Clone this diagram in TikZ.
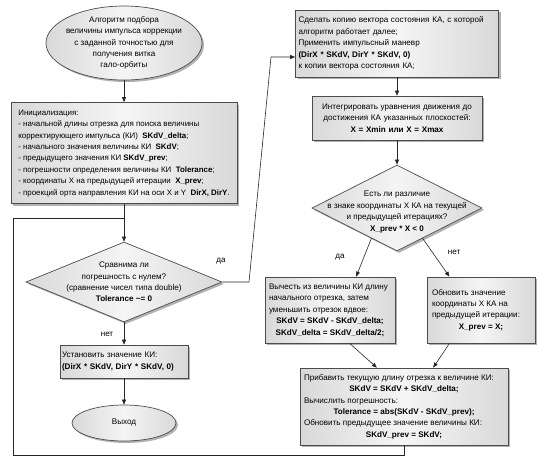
\documentclass[tikz,border=0pt]{standalone}
\usepackage{fontspec}
\setmainfont{Liberation Sans}
\usetikzlibrary{shapes.geometric,arrows.meta,shadows,calc}
\newcommand{\cln}[2]{\hbox to #1{\hfil#2\hfil}}
\begin{document}
\begin{tikzpicture}[x=1pt,y=-1pt,
  every node/.style={font=\fontsize{8.1}{11.4}\selectfont},
  shade/.style={left color=gray!30,right color=gray!30,middle color=gray!8},
  box/.style={draw=black!70,line width=0.7pt,shade,rectangle,inner sep=4pt,
    drop shadow={shadow xshift=2pt,shadow yshift=-2pt,fill=gray!60,opacity=1}},
  dec/.style={draw=black!70,line width=0.7pt,shade,diamond,inner sep=0pt,
    drop shadow={shadow xshift=2pt,shadow yshift=-2pt,fill=gray!60,opacity=1}},
  term/.style={draw=black!70,line width=0.7pt,shade,ellipse,inner sep=0pt,
    drop shadow={shadow xshift=2pt,shadow yshift=-2pt,fill=gray!60,opacity=1}},
  txt/.style={align=center,inner sep=0pt},
  arr/.style={-{Triangle[length=5pt,width=4pt]},line width=0.6pt,draw=black!85},
  ln/.style={line width=0.6pt,draw=black!85},
  lbl/.style={inner sep=0pt}
]
\useasboundingbox (0,0) rectangle (546,467);

% left column
\node[term,minimum width=156pt,minimum height=74pt] (e1) at (124,43) {};
\node[txt] (e1t) at (e1) {Алгоритм подбора\\величины импульса коррекции\\с заданной точностью для\\получения витка\\гало-орбиты};

\node[box,minimum width=226pt,minimum height=101pt,inner sep=0pt,font=\fontsize{7.9}{11.4}\selectfont] (init) at (124,153) {\begin{tabular}{@{}l@{}}Инициализация:\\
- начальной длины отрезка для поиска величины\\
корректирующего импульса (КИ)~ \textbf{SKdV\_delta};\\
- начального значения величины КИ~ \textbf{SKdV};\\
- предыдущего значения КИ \textbf{SKdV\_prev};\\
- погрешности определения величины КИ~ \textbf{Tolerance};\\
- координаты X на предыдущей итерации~ \textbf{X\_prev};\\
- проекций орта направления КИ на оси X и Y~ \textbf{DirX, DirY}.\end{tabular}\hspace{3pt}};

\node[dec,minimum width=196pt,minimum height=80pt] (d1) at (124,282) {};
\node[txt] (d1t) at (d1) {Сравнима ли\\погрешность с нулем?\\(сравнение чисел типа double)\\\textbf{Tolerance \textasciitilde= 0}};

\node[box,minimum width=128pt,minimum height=33pt,text width=124pt,align=left,inner sep=2pt] (set) at (124,361.5) {Установить значение КИ:\\\textbf{(DirX * SKdV, DirY * SKdV, 0)}};

\node[term,minimum width=104pt,minimum height=36pt] (ex) at (124,423) {};
\node[txt] (ext) at (ex) {Выход};

% right column
\node[box,minimum width=203pt,minimum height=67pt,text width=197pt,align=left,inner sep=3pt] (b1) at (397,43.5) {Сделать копию вектора состояния КА, с которой\\алгоритм работает далее;\\Применить импульсный маневр\\\textbf{(DirX * SKdV, DirY * SKdV, 0)}\\к копии вектора состояния КА;};

\node[box,minimum width=170pt,minimum height=44pt,text width=164pt,align=center,inner sep=3pt] (b2) at (397,118) {Интегрировать уравнения движения до\\достижения КА указанных плоскостей:\\\textbf{X = Xmin или X = Xmax}};

\node[dec,minimum width=170pt,minimum height=86pt] (d2) at (397,208) {};
\node[txt] (d2t) at ($(d2)+(0,4)$) {Есть ли различие\\в знаке координаты X КА на текущей\\и предыдущей итерациях?\\\textbf{X\_prev * X < 0}};

\node[box,minimum width=130pt,minimum height=66pt,inner sep=0pt] (b3) at (330,310) {\begin{tabular}{@{}l@{}}Вычесть из величины КИ длину\\начального отрезка, затем\\уменьшить отрезок вдвое:\\\cln{122pt}{\textbf{SKdV = SKdV - SKdV\_delta;}}\\\cln{122pt}{\textbf{SKdV\_delta = SKdV\_delta/2;}}\end{tabular}};

\node[box,minimum width=108pt,minimum height=66pt,inner sep=0pt] (b4) at (481,310) {\begin{tabular}{@{}l@{}}Обновить значение\\координаты X КА на\\предыдущей итерации:\\\cln{98pt}{\textbf{X\_prev = X;}}\end{tabular}};

\node[box,minimum width=208pt,minimum height=77pt,inner sep=0pt] (b5) at (404,406.5) {\begin{tabular}{@{}l@{}}Прибавить текущую длину отрезка к величине КИ:\\\cln{200pt}{\textbf{SKdV = SKdV + SKdV\_delta;}}\\Вычислить погрешность:\\\cln{200pt}{\textbf{Tolerance = abs(SKdV - SKdV\_prev);}}\\Обновить предыдущее значение величины КИ:\\\cln{200pt}{\textbf{SKdV\_prev = SKdV;}}\end{tabular}};

% coordinates
\coordinate (j) at (124,218);
\coordinate (lb) at (13,455);
\coordinate (lt) at (13,218);
\coordinate (c1) at (249,282);
\coordinate (c2) at (271,57);

% connectors
\draw[arr] (e1.south) -- (init.north);
\draw[arr] (init.south) -- (d1.north);
\draw[ln] (b5.south) |- (lb) -- (lt) -- (j);
\draw[arr] (d1.east) -- (c1) -- (c2) -- (c2 -| b1.west);
\node[lbl] (lda1) at (221,261) {да};
\draw[arr] (d1.south) -- (set.north);
\node[lbl] (lnet1) at (107,334) {нет};
\draw[arr] (set.south) -- (ex.north);

\draw[arr] (b1.south) -- (b2.north);
\draw[arr] (b2.south) -- (d2.north);
\draw[arr] ($(d2.south)!0.3!(d2.west)$) -- ($(b3.north west)!0.7!(b3.north east)$);
\draw[arr] ($(d2.south)!0.3!(d2.east)$) -- ($(b4.north west)!0.21!(b4.north east)$);
\node[lbl] (lda2) at (340,257) {да};
\node[lbl] (lnet2) at (454,252) {нет};
\draw[arr] ($(b3.south west)!0.65!(b3.south east)$) -- ($(b5.north west)!0.37!(b5.north east)$);
\draw[arr] ($(b4.south west)!0.21!(b4.south east)$) -- ($(b5.north west)!0.64!(b5.north east)$);
\end{tikzpicture}
\end{document}
